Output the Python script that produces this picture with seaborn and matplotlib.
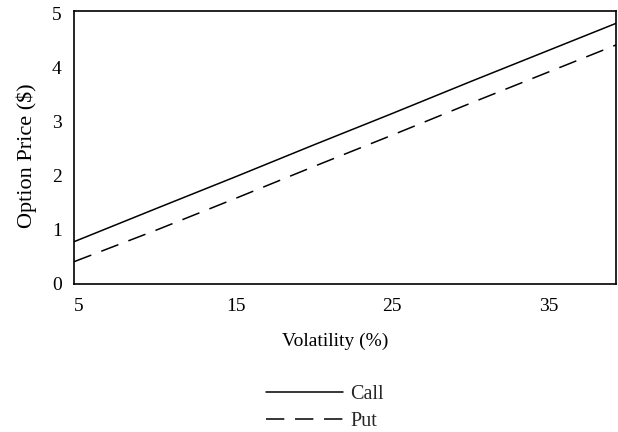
import matplotlib
matplotlib.use("Agg")
import matplotlib.pyplot as plt
from matplotlib.lines import Line2D
import seaborn as sns
import pandas as pd

volatility = [4.7, 10, 15, 20, 25, 30, 35, 40]
call_price = [0.78, 1.40, 1.98, 2.57, 3.15, 3.74, 4.32, 4.90]
put_price = [0.41, 1.00, 1.58, 2.17, 2.75, 3.34, 3.92, 4.50]
series_names = ["Call", "Put"]
x_ticks = [5, 15, 25, 35]
y_ticks = [0, 1, 2, 3, 4, 5]

sns.set_theme(style="white")
plt.rcParams["font.family"] = ["Liberation Serif", "DejaVu Serif"]

df = pd.DataFrame({
    "Volatility": volatility * 2,
    "Price": call_price + put_price,
    "Option": [series_names[0]] * len(volatility) + [series_names[1]] * len(volatility),
})

fig = plt.figure(figsize=(6.18, 4.32), dpi=100)
ax = fig.add_axes([0.12, 0.343, 0.877, 0.632])

sns.lineplot(data=df, x="Volatility", y="Price", style="Option",
             dashes={"Call": "", "Put": (12, 7)}, color="black",
             linewidth=1.1, ax=ax, legend=False)

ax.set_xlim(4.7, 39.3)
ax.set_ylim(0, 5.05)
ax.set_xticks(x_ticks)
ax.set_yticks(y_ticks)
ax.tick_params(axis="both", direction="in", length=9, width=1.0, colors="black",
               labelsize=14)
ax.tick_params(axis="y", pad=9)
ax.tick_params(axis="x", pad=10)
for s in ax.spines.values():
    s.set_color("black")
    s.set_linewidth(1.2)
ax.set_xlabel("Volatility (%)", fontsize=14, color="black", labelpad=13, x=0.482)
ax.set_ylabel("Option Price ($)", fontsize=16, color="black", labelpad=11, y=0.47)

handles = [Line2D([], [], color="black", lw=1.1),
           Line2D([], [], color="black", lw=1.1, dashes=(12, 7))]
fig.legend(handles, series_names, loc="upper center", bbox_to_anchor=(0.526, 0.15),
           frameon=False, handlelength=3.8, handletextpad=0.35, labelspacing=0.35,
           fontsize=14.5)

fig.savefig("out.png", dpi=100, facecolor="white")
